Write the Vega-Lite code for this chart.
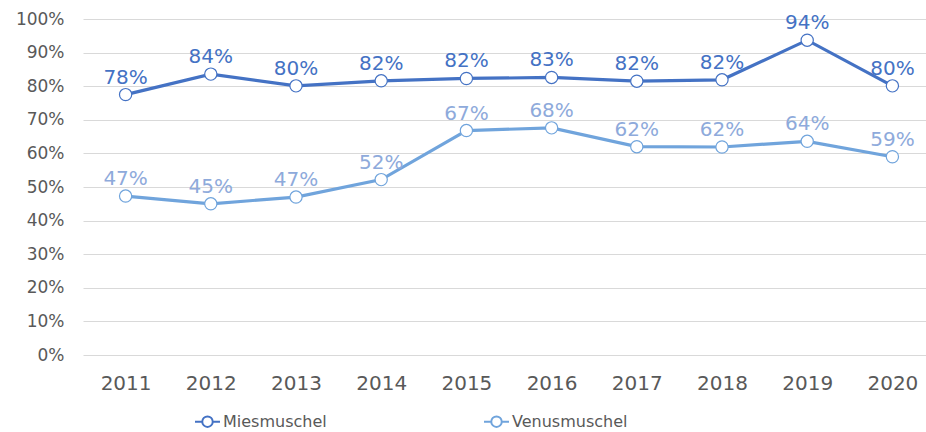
{
  "$schema": "https://vega.github.io/schema/vega-lite/v6.json",
  "width": 852,
  "height": 336,
  "autosize": {"type": "none"},
  "padding": {"left": 83, "top": 19, "right": 0, "bottom": 77},
  "background": "white",
  "config": {
    "view": {"stroke": null},
    "font": "DejaVu Sans",
    "axis": {"labelColor": "#595959", "labelFont": "DejaVu Sans"}
  },
  "data": {
    "values": [
      {"year": "2011", "series": "Miesmuschel", "value": 0.775},
      {"year": "2012", "series": "Miesmuschel", "value": 0.836},
      {"year": "2013", "series": "Miesmuschel", "value": 0.801},
      {"year": "2014", "series": "Miesmuschel", "value": 0.816},
      {"year": "2015", "series": "Miesmuschel", "value": 0.823},
      {"year": "2016", "series": "Miesmuschel", "value": 0.826},
      {"year": "2017", "series": "Miesmuschel", "value": 0.815},
      {"year": "2018", "series": "Miesmuschel", "value": 0.819},
      {"year": "2019", "series": "Miesmuschel", "value": 0.937},
      {"year": "2020", "series": "Miesmuschel", "value": 0.801},
      {"year": "2011", "series": "Venusmuschel", "value": 0.473},
      {"year": "2012", "series": "Venusmuschel", "value": 0.450},
      {"year": "2013", "series": "Venusmuschel", "value": 0.470},
      {"year": "2014", "series": "Venusmuschel", "value": 0.522},
      {"year": "2015", "series": "Venusmuschel", "value": 0.668},
      {"year": "2016", "series": "Venusmuschel", "value": 0.676},
      {"year": "2017", "series": "Venusmuschel", "value": 0.620},
      {"year": "2018", "series": "Venusmuschel", "value": 0.619},
      {"year": "2019", "series": "Venusmuschel", "value": 0.636},
      {"year": "2020", "series": "Venusmuschel", "value": 0.590}
    ]
  },
  "encoding": {
    "x": {
      "field": "year", "type": "ordinal", "title": null,
      "scale": {"type": "point", "padding": 0.5},
      "axis": {"labelAngle": 0, "labelFontSize": 20, "ticks": false, "domain": false, "labelPadding": 18, "grid": false}
    },
    "y": {
      "field": "value", "type": "quantitative", "title": null,
      "scale": {"domain": [0, 1], "nice": false},
      "axis": {"format": ".0%", "values": [0, 0.1, 0.2, 0.3, 0.4, 0.5, 0.6, 0.7, 0.8, 0.9, 1], "labelFontSize": 17, "ticks": false, "domain": false, "labelPadding": 19, "gridColor": "#D9D9D9", "gridWidth": 1}
    }
  },
  "layer": [
    {
      "mark": {"type": "line", "strokeWidth": 3.2},
      "encoding": {
        "color": {
          "field": "series", "type": "nominal",
          "scale": {"domain": ["Miesmuschel", "Venusmuschel"], "range": ["#4472C4", "#70A4DC"]},
          "legend": {
            "title": null,
            "orient": "none",
            "legendX": 111,
            "legendY": 389,
            "direction": "horizontal",
            "symbolType": "M-1,0H-0.42M0.42,0H1M0.42,0A0.42,0.42 0 1,1 -0.42,0A0.42,0.42 0 1,1 0.42,0",
            "symbolSize": 625,
            "symbolStrokeWidth": 2,
            "symbolFillColor": "white",
            "symbolOpacity": 1,
            "labelFontSize": 16,
            "labelColor": "#595959",
            "labelOffset": 2,
            "columnPadding": 153
          }
        }
      }
    },
    {
      "mark": {"type": "point", "shape": "circle", "filled": true, "fill": "white", "opacity": 1, "size": 150, "strokeWidth": 1.2},
      "encoding": {
        "stroke": {"field": "series", "type": "nominal", "scale": {"domain": ["Miesmuschel", "Venusmuschel"], "range": ["#4472C4", "#70A4DC"]}, "legend": null}
      }
    },
    {
      "mark": {"type": "text", "dy": -17, "fontSize": 20, "baseline": "middle"},
      "encoding": {
        "text": {"field": "value", "type": "quantitative", "format": ".0%"},
        "color": {"condition": {"test": "datum.series === 'Venusmuschel'", "value": "#8EAADB"}, "value": "#4472C4"}
      }
    }
  ]
}
